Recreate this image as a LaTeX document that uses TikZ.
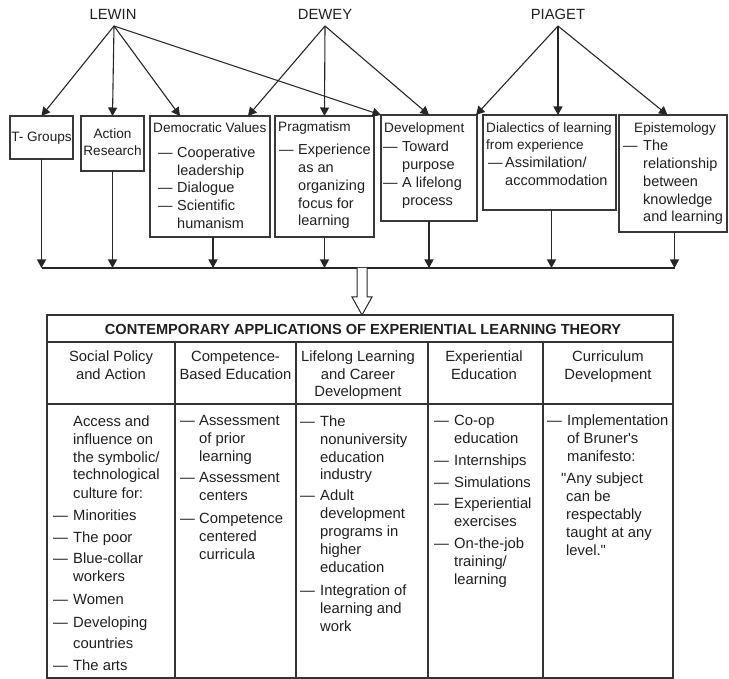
\documentclass[tikz,border=0pt]{standalone}
\usepackage{fontspec}
\setmainfont{Liberation Sans}
\newfontfamily\plainq{Liberation Sans}[Ligatures=TeXOff]
\usetikzlibrary{arrows.meta,calc}
\newcommand{\mlL}[1]{\begin{tabular}[t]{@{}l@{}}#1\end{tabular}}
\newcommand{\mlC}[1]{\begin{tabular}[t]{@{}c@{}}#1\end{tabular}}
\begin{document}
\begin{tikzpicture}[x=1pt,y=-1pt,
  ink/.style={draw=black!85, line width=1.1pt},
  boxn/.style={draw=black!78, line width=1.3pt, anchor=north west, inner sep=0pt, outer sep=0pt},
  arr/.style={draw=black!85, line width=1.1pt, -{Triangle[length=8.5pt,width=9pt]}},
  t/.style={inner sep=0pt, anchor=base west, text=black!88, font=\fontsize{14.5}{17.7}\selectfont},
  ttl/.style={t, font=\fontsize{13.6}{17}\selectfont},
  tb/.style={t, font=\fontsize{14.8}{18}\selectfont},
  nm/.style={inner sep=0pt, anchor=base, text=black!88, font=\fontsize{14.8}{18}\selectfont},
  hd/.style={inner sep=0pt, anchor=base, text=black!88, font=\fontsize{14.8}{17.5}\selectfont},
  grid/.style={draw=black!80, line width=1.3pt}
]
\useasboundingbox (0,0) rectangle (729,679);

% names
\node[nm] (lewin) at (113,20) {LEWIN};
\node[nm] (dewey) at (325,20) {DEWEY};
\node[nm] (piaget) at (558,20) {PIAGET};
\coordinate (lw) at (114,26);
\coordinate (dw) at (325,26);
\coordinate (pi) at (558,26);

% boxes
\node[boxn, minimum width=63pt, minimum height=43pt] (tg) at (10,116) {};
\node[boxn, minimum width=63pt, minimum height=55pt] (ar) at (81,116) {};
\node[boxn, minimum width=120pt, minimum height=121pt] (dv) at (150,116) {};
\node[boxn, minimum width=99pt, minimum height=121pt] (pg) at (275,116) {};
\node[boxn, minimum width=96pt, minimum height=106pt] (dev) at (381,115) {};
\node[boxn, minimum width=133pt, minimum height=95pt] (dia) at (483,115) {};
\node[boxn, minimum width=108pt, minimum height=117pt] (epi) at (619,115) {};

% box texts
\node[ttl, anchor=base] (tgT) at (41.5,142) {T- Groups};
\node[ttl, anchor=base] (arT) at (112.5,139) {\mlC{Action\\Research}};

\node[ttl] (dvT) at (153,133) {Democratic Values};
\node[t] (dvD1) at (158,158) {—};
\node[t] (dv1) at (177,158) {\mlL{Cooperative\\leadership}};
\node[t] (dvD2) at (158,193) {—};
\node[t] (dv2) at (177,193) {Dialogue};
\node[t] (dvD3) at (158,211) {—};
\node[t] (dv3) at (177,211) {\mlL{Scientific\\humanism}};

\node[ttl] (pgT) at (278,132) {Pragmatism};
\node[t] (pgD1) at (279,155) {—};
\node[t] (pg1) at (298,155) {\mlL{Experience\\as an\\organizing\\focus for\\learning}};

\node[ttl] (devT) at (384,133) {Development};
\node[t] (devD1) at (383,152) {—};
\node[t] (dev1) at (402,152) {\mlL{Toward\\purpose}};
\node[t] (devD2) at (383,188) {—};
\node[t] (dev2) at (402,188) {\mlL{A lifelong\\process}};

\node[ttl] (diaT) at (486,133) {\mlL{Dialectics of learning\\from experience}};
\node[t] (diaD1) at (488,168) {—};
\node[t] (dia1) at (505,168) {\mlL{Assimilation/\\accommodation}};

\node[ttl] (epiT) at (634,133) {Epistemology};
\node[t] (epiD1) at (623,151) {—};
\node[t] (epi1) at (643,151) {\mlL{The\\relationship\\between\\knowledge\\and learning}};

% top arrows
\draw[arr] (lw) -- (tg.north);
\draw[arr] (lw) -- (ar.north);
\draw[arr] (lw) -- ([xshift=30pt]dv.north west);
\draw[arr] (lw) -- (dev.north west);
\draw[arr] (dw) -- ([xshift=-22pt]dv.north east);
\draw[arr] (dw) -- (pg.north);
\draw[arr] (dw) -- (dev.north);
\draw[arr] (pi) -- ([xshift=-1pt]dev.north east);
\draw[arr] (pi) -- ([xshift=8.5pt]dia.north);
\draw[arr] (pi) -- ([xshift=-5.5pt]epi.north);

% bus
\coordinate (busL) at (41.5,268);
\coordinate (busR) at (675,268);
\draw[ink] (busL) -- (busR);
\draw[arr] (tg.south) -- (tg.south |- busL);
\draw[arr] (ar.south) -- (ar.south |- busL);
\draw[arr] ([xshift=3pt]dv.south) -- ([xshift=3pt]dv.south |- busL);
\draw[arr] (pg.south) -- (pg.south |- busL);
\draw[arr] (dev.south) -- (dev.south |- busL);
\draw[arr] ([xshift=2pt]dia.south) -- ([xshift=2pt]dia.south |- busL);
\draw[arr] ([xshift=1.5pt]epi.south) -- ([xshift=1.5pt]epi.south |- busL);

% table
\node[draw=black!80, line width=1.5pt, anchor=north west, minimum width=626pt, minimum height=363pt, inner sep=0pt, outer sep=0pt] (tbl) at (47,315) {};
\draw[grid] (47,342) -- (673,342);
\draw[grid] (47,404) -- (673,404);
\foreach \xx in {175,296,428,543} \draw[grid] (\xx,342) -- (\xx,678);

% hollow arrow from bus to table
\coordinate (ha) at (362,268);
\draw[draw=black!85, line width=1pt, fill=white]
  ($(ha)+(-5,0)$) -- ($(ha)+(-5,29)$) -- ($(ha)+(-10,29)$) -- (ha |- tbl.north)
  -- ($(ha)+(10,29)$) -- ($(ha)+(5,29)$) -- ($(ha)+(5,0)$);

\node[inner sep=0pt, anchor=base, text=black!88, font=\bfseries\fontsize{14.6}{17}\selectfont] (tblT) at (363,335) {CONTEMPORARY APPLICATIONS OF EXPERIENTIAL LEARNING THEORY};

\node[hd] (h1) at (111,362) {\mlC{Social Policy\\and Action}};
\node[hd] (h2) at (235.5,362) {\mlC{Competence-\\Based Education}};
\node[hd] (h3) at (358,362) {\mlC{Lifelong Learning\\and Career\\Development}};
\node[hd] (h4) at (484,362) {\mlC{Experiential\\Education}};
\node[hd] (h5) at (608,362) {\mlC{Curriculum\\Development}};

% column 1
\node[tb] (c1a) at (73,426) {\mlL{Access and\\influence on\\the symbolic/\\technological\\culture for:}};
\node[tb] (c1d1) at (53,520) {—};  \node[tb] (c1b) at (73,520) {Minorities};
\node[tb] (c1d2) at (53,542) {—};  \node[tb] (c1c) at (73,542) {The poor};
\node[tb] (c1d3) at (53,563) {—};  \node[tb] (c1e) at (73,563) {\mlL{Blue-collar\\workers}};
\node[tb] (c1d4) at (53,604) {—};  \node[tb] (c1f) at (73,604) {Women};
\node[tb] (c1d5) at (53,627) {—};  \node[tb] (c1g) at (73,627) {\mlL{Developing\\[3pt]countries}};
\node[tb] (c1d6) at (53,670) {—};  \node[tb] (c1h) at (73,670) {The arts};

% column 2
\node[tb] (c2d1) at (180,425) {—}; \node[tb] (c2a) at (199,425) {\mlL{Assessment\\of prior\\learning}};
\node[tb] (c2d2) at (180,482) {—}; \node[tb] (c2b) at (199,482) {\mlL{Assessment\\centers}};
\node[tb] (c2d3) at (180,523) {—}; \node[tb] (c2c) at (199,523) {\mlL{Competence\\centered\\curricula}};

% column 3
\node[tb] (c3d1) at (300,426) {—}; \node[tb] (c3a) at (320,426) {\mlL{The\\nonuniversity\\education\\industry}};
\node[tb] (c3d2) at (300,500) {—}; \node[tb] (c3b) at (320,500) {\mlL{Adult\\development\\programs in\\higher\\education}};
\node[tb] (c3d3) at (300,595) {—}; \node[tb] (c3c) at (320,595) {\mlL{Integration of\\learning and\\work}};

% column 4
\node[tb] (c4d1) at (434,425) {—}; \node[tb] (c4a) at (454,425) {\mlL{Co-op\\education}};
\node[tb] (c4d2) at (434,465) {—}; \node[tb] (c4b) at (454,465) {Internships};
\node[tb] (c4d3) at (434,487) {—}; \node[tb] (c4c) at (454,487) {Simulations};
\node[tb] (c4d4) at (434,508) {—}; \node[tb] (c4d) at (454,508) {\mlL{Experiential\\exercises}};
\node[tb] (c4d5) at (434,548) {—}; \node[tb] (c4e) at (454,548) {\mlL{On-the-job\\training/\\learning}};

% column 5
\node[tb] (c5d1) at (547,425) {—}; \node[tb] (c5a) at (567,425) {\mlL{Implementation\\of {\plainq Bruner's}\\manifesto:}};
\node[tb] (c5b) at (561,483) {{\plainq "}Any subject};
\node[tb] (c5c) at (566,501) {\mlL{can be\\respectably\\taught at any\\level.{\plainq "}}};
\end{tikzpicture}
\end{document}
